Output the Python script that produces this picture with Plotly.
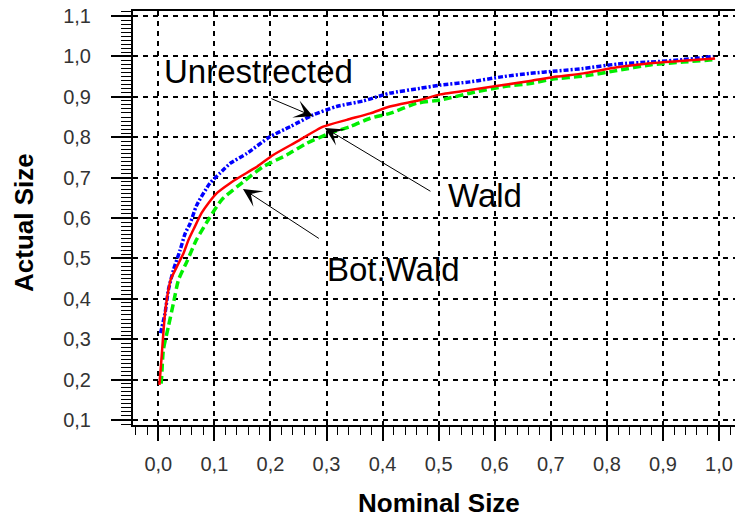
import plotly.graph_objects as go

# ---- data ----
wald_x = [0.002, 0.006, 0.009, 0.012, 0.016, 0.022, 0.033, 0.045, 0.054, 0.065, 0.077, 0.090,
          0.104, 0.128, 0.146, 0.176, 0.205, 0.247, 0.294, 0.336, 0.378, 0.413, 0.467, 0.503,
          0.556, 0.615, 0.663, 0.711, 0.758, 0.818, 0.877, 0.936, 0.993]
wald_y = [0.187, 0.257, 0.315, 0.364, 0.405, 0.447, 0.479, 0.513, 0.546, 0.578, 0.612, 0.638,
          0.661, 0.686, 0.702, 0.727, 0.756, 0.789, 0.826, 0.843, 0.859, 0.876, 0.892, 0.906,
          0.917, 0.929, 0.939, 0.950, 0.958, 0.973, 0.983, 0.989, 0.995]

unr_x = [0.004, 0.012, 0.018, 0.027, 0.039, 0.048, 0.057, 0.068, 0.092, 0.110, 0.128, 0.158,
         0.199, 0.235, 0.276, 0.318, 0.366, 0.395, 0.413, 0.467, 0.503, 0.556, 0.615, 0.663,
         0.711, 0.758, 0.818, 0.877, 0.936, 0.990]
unr_y = [0.315, 0.364, 0.422, 0.471, 0.521, 0.562, 0.587, 0.630, 0.686, 0.711, 0.735, 0.760,
         0.801, 0.826, 0.855, 0.876, 0.890, 0.902, 0.909, 0.921, 0.929, 0.937, 0.950, 0.958,
         0.964, 0.970, 0.981, 0.986, 0.992, 1.000]

bot_x = [0.005, 0.006, 0.009, 0.018, 0.027, 0.036, 0.051, 0.068, 0.089, 0.113, 0.152, 0.187,
         0.229, 0.265, 0.306, 0.342, 0.378, 0.413, 0.461, 0.503, 0.556, 0.615, 0.663, 0.704,
         0.758, 0.818, 0.877, 0.936, 0.993]
bot_y = [0.190, 0.207, 0.273, 0.331, 0.389, 0.447, 0.492, 0.546, 0.595, 0.645, 0.690, 0.727,
         0.756, 0.785, 0.810, 0.826, 0.847, 0.859, 0.884, 0.892, 0.909, 0.925, 0.933, 0.944,
         0.951, 0.965, 0.979, 0.986, 0.992]

x_title = "Nominal Size"
y_title = "Actual Size"

# label text, label centre, arrow tip, arrow tail (data coords)
labels = ["Unrestrected", "Wald", "Bot.Wald"]
label_x = [0.179, 0.583, 0.419]
label_y = [0.963, 0.656, 0.473]
tip_x = [0.276, 0.297, 0.151]
tip_y = [0.852, 0.823, 0.672]
tail_x = [0.199, 0.488, 0.289]
tail_y = [0.897, 0.664, 0.547]

fig = go.Figure()
fig.add_trace(go.Scatter(x=bot_x, y=bot_y, mode="lines", line_shape="spline",
                         line=dict(color="#00ee00", width=3.5, dash="8px,4px", smoothing=0.6),
                         showlegend=False))
fig.add_trace(go.Scatter(x=unr_x, y=unr_y, mode="lines", line_shape="spline",
                         line=dict(color="#0000ff", width=3.5, dash="5px,2px,2px,2px", smoothing=0.6),
                         showlegend=False))
fig.add_trace(go.Scatter(x=wald_x, y=wald_y, mode="lines", line_shape="spline",
                         line=dict(color="#ff0000", width=2.5, smoothing=0.6),
                         showlegend=False))

annotations = []
for t, lx, ly in zip(labels, label_x, label_y):
    annotations.append(dict(x=lx, y=ly, xref="x", yref="y", text=t, showarrow=False,
                            font=dict(family="Arial, Liberation Sans", size=33, color="black"),
                            xanchor="center", yanchor="middle"))
for tx, ty, sx, sy in zip(tip_x, tip_y, tail_x, tail_y):
    annotations.append(dict(x=tx, y=ty, xref="x", yref="y", ax=sx, ay=sy, axref="x", ayref="y",
                            text="", showarrow=True, arrowhead=3, arrowsize=3.1, arrowwidth=1,
                            arrowcolor="black"))
annotations.append(dict(x=0.508, y=-0.188, xref="paper", yref="paper", text="<b>%s</b>" % x_title,
                        showarrow=False, font=dict(family="Arial, Liberation Sans", size=26, color="black"),
                        xanchor="center", yanchor="middle"))
annotations.append(dict(x=-0.181, y=0.488, xref="paper", yref="paper", text="<b>%s</b>" % y_title,
                        showarrow=False, textangle=-90,
                        font=dict(family="Arial, Liberation Sans", size=26, color="black"),
                        xanchor="center", yanchor="middle"))

tickfont = dict(family="Arial, Liberation Sans", size=20, color="#333333")

fig.update_layout(
    width=735, height=519,
    margin=dict(l=133, r=0, t=11, b=94),
    paper_bgcolor="white", plot_bgcolor="white",
    separators=",.",
    annotations=annotations,
    xaxis=dict(range=[-0.0451, 1.0285], tickmode="linear", tick0=0, dtick=0.1, tickformat=".1f",
               showgrid=True, gridcolor="black", gridwidth=1.5, griddash="5px,5px",
               zeroline=False, showline=True, linecolor="black", linewidth=2, mirror=True,
               ticks="outside", ticklen=14, tickwidth=1.5, tickcolor="black",
               minor=dict(dtick=0.02, tick0=0, ticks="outside", ticklen=8, tickwidth=1.2,
                          tickcolor="black", showgrid=False),
               tickfont=tickfont, ticklabelstandoff=6),
    yaxis=dict(range=[0.0876, 1.1124], tickmode="linear", tick0=0.1, dtick=0.1, tickformat=".1f",
               showgrid=True, gridcolor="black", gridwidth=1.5, griddash="5px,5px",
               zeroline=False, showline=True, linecolor="black", linewidth=2, mirror=False,
               ticks="outside", ticklen=20, tickwidth=1.5, tickcolor="black",
               minor=dict(dtick=0.01, tick0=0.1, ticks="outside", ticklen=10, tickwidth=1.2,
                          tickcolor="black", showgrid=False),
               tickfont=tickfont, ticklabelstandoff=16),
)

fig.write_html("out.html")
